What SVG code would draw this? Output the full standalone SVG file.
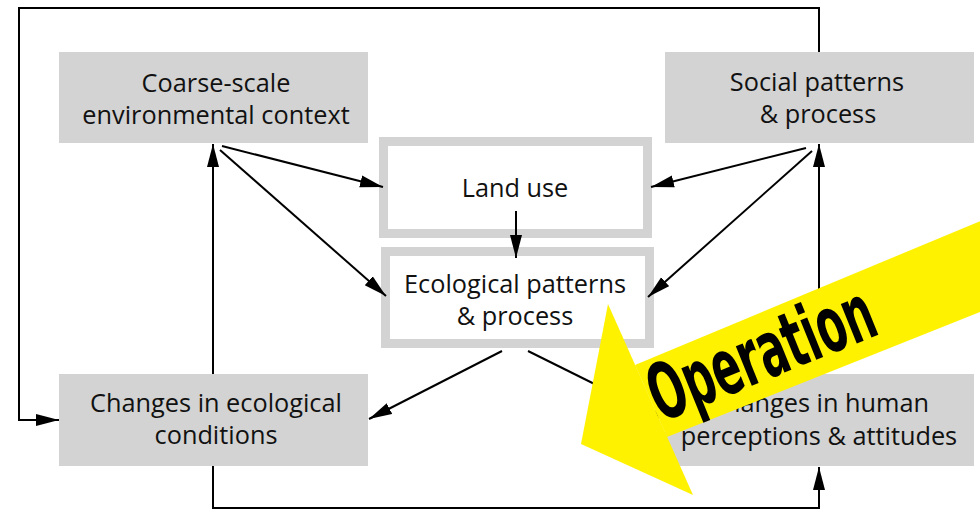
<svg xmlns="http://www.w3.org/2000/svg" width="980" height="509" viewBox="0 0 980 509">
<style>
.box{fill:#d3d3d3}
.obox{fill:#fff;stroke:#d3d3d3;stroke-width:9}
.t{font-family:"Open Sans","Noto Sans","DejaVu Sans",sans-serif;font-size:25.3px;fill:#111;text-anchor:middle}
.c{fill:none;stroke:#000;stroke-width:2}
.op{font-family:"Liberation Sans Narrow","DejaVu Sans Condensed","DejaVu Sans",sans-serif;font-weight:bold;font-size:78px;fill:#000;text-anchor:middle}
</style>
<defs>
<marker id="ah" markerUnits="userSpaceOnUse" markerWidth="24" markerHeight="14" refX="23" refY="6.5" orient="auto">
<path d="M0,0.5 L23,6.5 L0,12.5 z" fill="#000"/>
</marker>
</defs>
<rect width="980" height="509" fill="#fff"/>
<g id="coarse">
<rect class="box" x="59" y="52" width="309" height="91"/>
<text class="t" x="216" y="92">Coarse-scale</text>
<text class="t" x="216" y="124">environmental context</text>
</g>
<g id="social">
<rect class="box" x="665" y="52" width="309" height="91"/>
<text class="t" x="817" y="91">Social patterns</text>
<text class="t" x="818" y="123">&amp; process</text>
</g>
<g id="landuse">
<rect class="obox" x="383.5" y="141.5" width="264" height="92"/>
<text class="t" x="515" y="197">Land use</text>
</g>
<g id="ecological">
<rect class="obox" x="385.5" y="251.5" width="264" height="92"/>
<text class="t" x="515" y="293">Ecological patterns</text>
<text class="t" x="515" y="325">&amp; process</text>
</g>
<g id="ecochanges">
<rect class="box" x="59" y="374" width="309" height="92"/>
<text class="t" x="216" y="412">Changes in ecological</text>
<text class="t" x="216" y="444">conditions</text>
</g>
<g id="humanchanges">
<rect class="box" x="665" y="374" width="309" height="92"/>
<text class="t" x="819" y="412">Changes in human</text>
<text class="t" x="819" y="445">perceptions &amp; attitudes</text>
</g>
<g id="connectors">
<path class="c" d="M819,52 V8 H19 V420 H59" marker-end="url(#ah)"/>
<path class="c" d="M213,466 V508 H819 V467" marker-end="url(#ah)"/>
<path class="c" d="M213,374 V144" marker-end="url(#ah)"/>
<path class="c" d="M819,374 V144" marker-end="url(#ah)"/>
<path class="c" d="M222,146 L383,187" marker-end="url(#ah)"/>
<path class="c" d="M220,150 L386,296" marker-end="url(#ah)"/>
<path class="c" d="M806,148 L651,187" marker-end="url(#ah)"/>
<path class="c" d="M812,151 L648,297" marker-end="url(#ah)"/>
<path class="c" d="M516,211 V258" marker-end="url(#ah)"/>
<path class="c" d="M502,351 L369,419" marker-end="url(#ah)"/>
<path class="c" d="M528,351 L665,419" marker-end="url(#ah)"/>
</g>
<g id="operation">
<polygon points="635,365 990,217 990,308 667,437" fill="#fff200"/>
<polygon points="608,304 581,444 693,495" fill="#fff200"/>
<text class="op" x="0" y="0" textLength="238" lengthAdjust="spacingAndGlyphs" transform="translate(771,378) rotate(-22)">Operation</text>
</g>
</svg>
